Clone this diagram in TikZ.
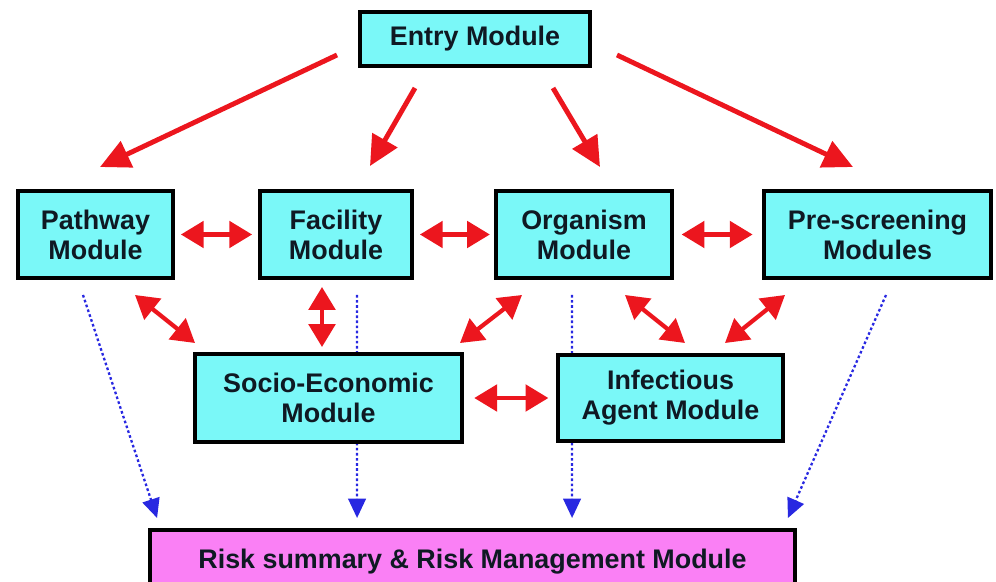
\documentclass[tikz,border=0pt]{standalone}
\usepackage{fontspec}
\setmainfont{Liberation Sans}
\usepackage{tikz}
\usetikzlibrary{arrows.meta,calc,backgrounds}
\definecolor{boxcyan}{RGB}{122,248,248}
\definecolor{boxpink}{RGB}{250,128,245}
\definecolor{linkred}{RGB}{236,22,30}
\definecolor{dotblue}{RGB}{40,40,225}
\definecolor{txtdark}{RGB}{15,25,35}

\begin{document}
\begin{tikzpicture}[x=0.02cm,y=-0.02cm,
        modbox/.style={draw=black,line width=2.2pt,fill=boxcyan,inner sep=0pt,outer sep=0pt,
            minimum height=1.74cm,align=center,text=txtdark,
            font=\fontsize{15.3}{17}\selectfont\bfseries},
        mainarrow/.style={draw=linkred,line width=2.8pt,-{Triangle[length=17pt,width=16pt]}},
        twoway/.style={draw=linkred,line width=2.4pt,{Triangle[length=13pt,width=15pt]}-{Triangle[length=13pt,width=15pt]}},
        dotarrow/.style={draw=dotblue,line width=1.3pt,dash pattern=on 1.5pt off 1.4pt,
            -{Triangle[length=11pt,width=10pt]}}]
        \useasboundingbox (0,0) rectangle (996,581);
        % modules
        \node[modbox,minimum width=4.6cm,minimum height=1.08cm] (entry) at (475,39) {Entry Module};
        \node[modbox,minimum width=3.1cm] (pathway) at (95.5,234.5) {Pathway\\Module};
        \node[modbox,minimum width=3.04cm] (facility) at (336,234.5) {Facility\\Module};
        \node[modbox,minimum width=3.52cm] (organism) at (584,234.5) {Organism\\Module};
        \node[modbox,minimum width=4.54cm] (prescreen) at (877.5,234.5) {Pre-screening\\Modules};
        \node[modbox,minimum width=5.34cm,minimum height=1.76cm] (socio) at (328.5,398) {Socio-Economic\\Module};
        \node[modbox,minimum width=4.5cm,minimum height=1.72cm] (infect) at (670.5,398) {Infectious\\Agent Module};
        \node[modbox,fill=boxpink,minimum width=12.9cm,minimum height=1.28cm] (risk) at (472.5,562) {Risk summary \& Risk Management Module};
        % entry to modules
        \draw[mainarrow] ($(entry.south west)+(-23,-11)$) -- ($(pathway.north)+(4.5,-24)$);
        \draw[mainarrow] ($(entry.south)+(-60,22)$) -- ($(facility.north)+(34,-25)$);
        \draw[mainarrow] ($(entry.south)+(78,22)$) -- ($(organism.north)+(16,-24)$);
        \draw[mainarrow] ($(entry.south east)+(27,-11)$) -- ($(prescreen.north)+(-24.5,-24)$);
        % links between modules
        \draw[twoway,shorten <=4.5pt,shorten >=4.5pt] (pathway) -- (facility);
        \draw[twoway,shorten <=4.5pt,shorten >=3.5pt] (facility) -- (organism);
        \draw[twoway,shorten <=5.5pt,shorten >=6.5pt] (organism) -- (prescreen);
        \draw[twoway,shorten <=7pt,shorten >=5.5pt] (socio) -- (infect);
        \draw[twoway] ($(pathway.south east)+(-38,17)$) -- ($(socio.north west)+(0,-11)$);
        \draw[twoway] ($(facility.south)+(-14,9)$) -- ($(socio.north)+(-6.5,-7)$);
        \draw[twoway] ($(organism.south west)+(26,17)$) -- ($(socio.north east)+(-2,-11)$);
        \draw[twoway] ($(organism.south)+(41,17)$) -- ($(infect.north)+(14.5,-12)$);
        \draw[twoway] ($(prescreen.south west)+(21,17)$) -- ($(infect.north east)+(-58,-12)$);
        % results to risk module
        \begin{pgfonlayer}{background}
        \draw[dotarrow] ($(pathway.south)+(-12.5,17)$) -- ($(risk.north west)+(7,-12)$);
        \draw[dotarrow] ($(facility.south)+(21,17)$) -- ($(risk.north west)+(207,-12)$);
        \draw[dotarrow] ($(organism.south)+(-12,17)$) -- ($(risk.north west)+(422,-12)$);
        \draw[dotarrow] ($(prescreen.south)+(8.5,17)$) -- ($(risk.north east)+(-7,-12)$);
        \end{pgfonlayer}
    \end{tikzpicture}
\end{document}
